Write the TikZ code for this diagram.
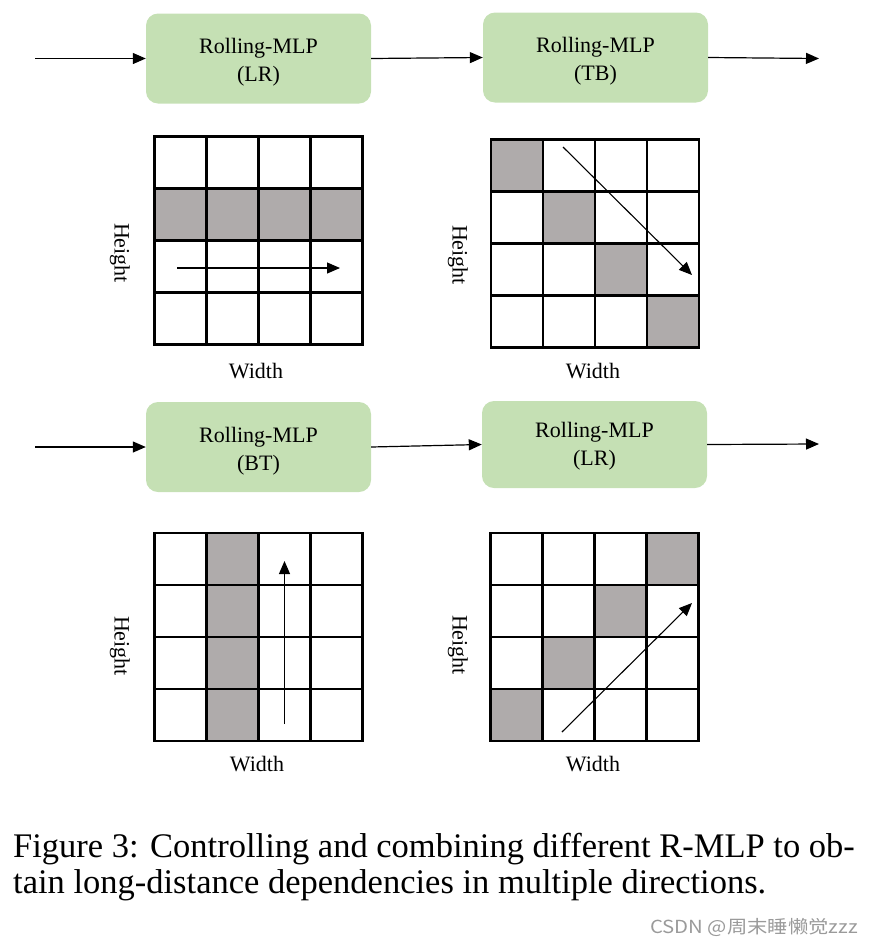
\documentclass[tikz,border=0pt]{standalone}
\usepackage{fontspec}
\setmainfont{Liberation Serif}
\newfontfamily\cjkfont{Noto Sans CJK SC}
\usetikzlibrary{arrows.meta}
\definecolor{boxgreen}{HTML}{C5E0B4}
\definecolor{cellgray}{HTML}{AFABAB}
\definecolor{wmgray}{HTML}{9A9A9A}
\tikzset{
  mlpbox/.style={fill=boxgreen, rounded corners=12pt, minimum width=225pt, minimum height=90pt,
    inner sep=0pt},
  boxtext/.style={align=center, inner sep=0pt, font=\fontsize{22}{28}\selectfont},
  flowarrow/.style={line width=1.2pt, -{Triangle[length=13pt,width=11pt]}},
  inarrow/.style={line width=1.1pt, -{Triangle[length=13pt,width=11pt]}},
  gridline/.style={line width=2.3pt, line cap=rect},
  shade/.style={fill=cellgray},
  axislabel/.style={font=\fontsize{22}{26}\selectfont, inner sep=0pt},
}
\begin{document}
\begin{tikzpicture}[x=1pt,y=-1pt]
\useasboundingbox (0,0) rectangle (873,946);

% ---------- boxes row 1 ----------
\node[mlpbox] (b1) at (258.5,58.5) {};
\node[boxtext] (t1) at ([yshift=-4pt]b1.center) {Rolling-MLP\\(LR)};
\node[mlpbox] (b2) at (595.5,57.5) {};
\node[boxtext] (t2) at ([yshift=-4pt]b2.center) {Rolling-MLP\\(TB)};
\coordinate (in1) at (35,58.5);
\coordinate (out1) at (819,58.5);
\draw[flowarrow] (in1) -- (b1.west);
\draw[flowarrow] (b1.east) -- (b2.west);
\draw[flowarrow] (b2.east) -- (out1);

% ---------- boxes row 2 ----------
\node[mlpbox] (b3) at (258.5,447) {};
\node[boxtext] (t3) at ([yshift=-4pt]b3.center) {Rolling-MLP\\(BT)};
\node[mlpbox, minimum height=87pt] (b4) at (594.5,444.5) {};
\node[boxtext] (t4) at ([yshift=-2pt]b4.center) {Rolling-MLP\\(LR)};
\coordinate (in2) at (35,447);
\coordinate (out2) at (819,444);
\draw[flowarrow] (in2) -- (b3.west);
\draw[flowarrow] (b3.east) -- (b4.west);
\draw[flowarrow] (b4.east) -- (out2);

% ---------- grid 1 (LR) ----------
\begin{scope}[shift={(154.5,136.5)}]
  \foreach \i in {0,...,3} \fill[shade] (\i*52,52) rectangle ++(52,52);
  \foreach \i in {0,...,4} {
    \draw[gridline] (\i*52,0) -- (\i*52,208);
    \draw[gridline] (0,\i*52) -- (208,\i*52);
  }
\end{scope}
\coordinate (g1s) at (177,268);
\coordinate (g1e) at (340,268);
\draw[inarrow] (g1s) -- (g1e);
\node[axislabel, rotate=-90] (h1) at (120,253) {Height};
\node[axislabel] (w1) at (256,371) {Width};

% ---------- grid 2 (TB) ----------
\begin{scope}[shift={(491,139.5)}]
  \foreach \i in {0,...,3} \fill[shade] (\i*52,\i*52) rectangle ++(52,52);
  \foreach \i in {0,...,4} {
    \draw[gridline] (\i*52,0) -- (\i*52,208);
    \draw[gridline] (0,\i*52) -- (208,\i*52);
  }
\end{scope}
\coordinate (g2s) at (563,147);
\coordinate (g2e) at (692,275);
\draw[inarrow] (g2s) -- (g2e);
\node[axislabel, rotate=-90] (h2) at (458,255) {Height};
\node[axislabel] (w2) at (593,371) {Width};

% ---------- grid 3 (BT) ----------
\begin{scope}[shift={(154.5,533)}]
  \foreach \j in {0,...,3} \fill[shade] (52,\j*52) rectangle ++(52,52);
  \foreach \i in {0,...,4} {
    \draw[gridline] (\i*52,0) -- (\i*52,208);
    \draw[gridline] (0,\i*52) -- (208,\i*52);
  }
\end{scope}
\coordinate (g3s) at (284.5,724);
\coordinate (g3e) at (284.5,561);
\draw[inarrow] (g3s) -- (g3e);
\node[axislabel, rotate=-90] (h3) at (120,646) {Height};
\node[axislabel] (w3) at (257,764) {Width};

% ---------- grid 4 (LR, anti-diagonal) ----------
\begin{scope}[shift={(490.5,533)}]
  \foreach \i in {0,...,3} \fill[shade] (\i*52,156-\i*52) rectangle ++(52,52);
  \foreach \i in {0,...,4} {
    \draw[gridline] (\i*52,0) -- (\i*52,208);
    \draw[gridline] (0,\i*52) -- (208,\i*52);
  }
\end{scope}
\coordinate (g4s) at (562,732);
\coordinate (g4e) at (692,603);
\draw[inarrow] (g4s) -- (g4e);
\node[axislabel, rotate=-90] (h4) at (458,645) {Height};
\node[axislabel] (w4) at (593,764) {Width};

% ---------- caption ----------
\node[anchor=base west, inner sep=0pt, font=\fontsize{34.5}{38}\selectfont] (cap1) at (13,857)
  {Figure 3: Controlling and combining different R-MLP to ob-};
\node[anchor=base west, inner sep=0pt, font=\fontsize{34.5}{38}\selectfont] (cap2) at (13,893)
  {tain long-distance dependencies in multiple directions.};

% ---------- watermark ----------
\node[anchor=east, inner sep=0pt, text=wmgray, xscale=1.13, font=\cjkfont\fontsize{18}{20}\selectfont] (wm) at (858,927)
  {CSDN @周末睡懒觉zzz};
\end{tikzpicture}
\end{document}
